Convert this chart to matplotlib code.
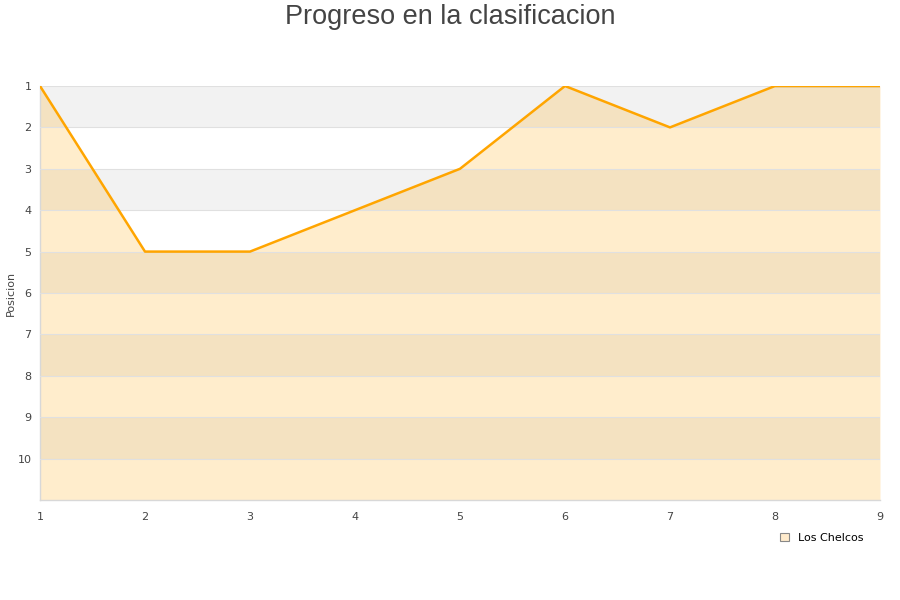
import matplotlib
matplotlib.use("Agg")
import matplotlib.pyplot as plt
from matplotlib.patches import Patch

jornadas = [1, 2, 3, 4, 5, 6, 7, 8, 9]
posiciones = [1, 5, 5, 4, 3, 1, 2, 1, 1]
y_ticks = [1, 2, 3, 4, 5, 6, 7, 8, 9, 10]
serie = "Los Chelcos"
titulo = "Progreso en la clasificacion"

fig = plt.figure(figsize=(9, 6), dpi=100)
ax = fig.add_axes([40/900, 100/600, 840/900, 414/600])

ymin, ymax = 1, 11
ax.set_xlim(1, 9)
ax.set_ylim(ymax, ymin)

# alternating bands
for i in range(ymin, ymax):
    if (i - ymin) % 2 == 0:
        ax.axhspan(i, i + 1, color="#F2F2F2", zorder=0, lw=0)

ax.fill_between(jornadas, posiciones, ymax, color="#FFA500", alpha=0.2, lw=0, zorder=1)
ax.plot(jornadas, posiciones, color="#FFA500", lw=1.8, zorder=3)

ax.set_yticks(y_ticks)
ax.set_xticks(jornadas)
ax.grid(axis="y", color="#E0E0E0", lw=0.8, zorder=2)
ax.set_axisbelow(False)
ax.tick_params(axis="y", length=0, labelsize=8, colors="#444444", pad=6)
ax.tick_params(axis="x", length=0, labelsize=8, colors="#444444", pad=9)
for s in ["top", "right"]:
    ax.spines[s].set_visible(False)
for s in ["left", "bottom"]:
    ax.spines[s].set_color("#D8D8D8")
    ax.spines[s].set_linewidth(1)
ax.axhline(1, xmin=7/8, xmax=1, color="#AAAAAA", lw=1, zorder=2.5)
ax.set_ylabel("Posicion", fontsize=8, color="#444444")
ax.yaxis.set_label_coords(-24/840, 0.5)

fig.text(0.5, 1 - 17/600, titulo, ha="center", va="center", fontsize=19.5,
         color="#444444", family="Liberation Sans")

handle = Patch(facecolor="#FFEBCC", edgecolor="#888888", lw=0.8)
fig.legend([handle], [serie], loc="center left", bbox_to_anchor=(770/900, 1 - 538/600),
           frameon=False, fontsize=8, handlelength=0.8, handleheight=0.8, handletextpad=0.8)

fig.savefig("out.png", dpi=100)
